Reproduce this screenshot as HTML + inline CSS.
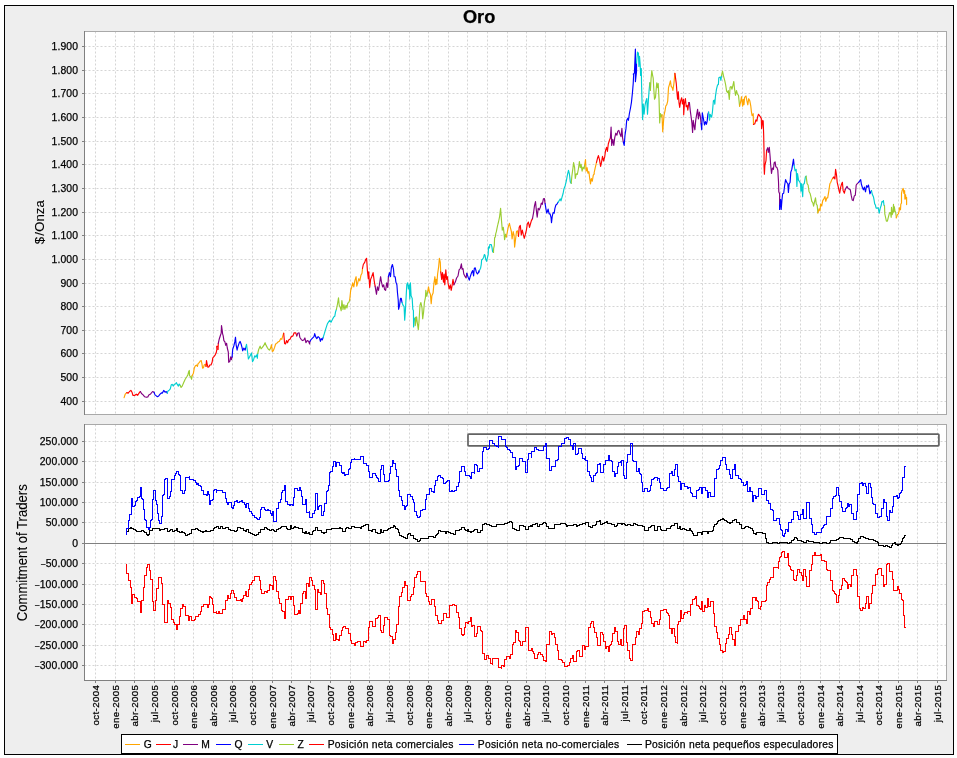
<!DOCTYPE html>
<html><head><meta charset="utf-8"><title>Oro</title>
<style>
html,body{margin:0;padding:0;background:#fff;}
body{width:957px;height:758px;overflow:hidden;}
svg{display:block;will-change:transform;}
text{font-family:"Liberation Sans", sans-serif;fill:#000;stroke:#000;stroke-width:0.25px;}
.t{font-size:10.4px;letter-spacing:0.13px;}
.x{font-size:9.7px;letter-spacing:0.4px;}
.l{font-size:10.3px;letter-spacing:0.25px;}
.a{font-size:13.8px;stroke-width:0.1px;}
.g{stroke:#d5d5d5;stroke-width:1;stroke-dasharray:2 2;fill:none;}
.c{shape-rendering:crispEdges;}
.p{fill:none;stroke-width:1.15;stroke-linejoin:round;stroke-linecap:round;}
.s{fill:none;stroke-width:1;stroke-linejoin:miter;shape-rendering:crispEdges;}
</style></head><body>
<svg width="957" height="758" viewBox="0 0 957 758">
<rect x="0" y="0" width="957" height="758" fill="#fff"/>
<rect class="c" x="4.5" y="5.5" width="949" height="749" fill="#eeeeee" stroke="#000" stroke-width="1"/>
<text x="462.9" y="23" textLength="32.4" lengthAdjust="spacingAndGlyphs" style="font-size:18px;font-weight:bold">Oro</text>
<rect x="84" y="31" width="863" height="384" fill="#fff"/>
<path class="g" d="M95.5 31.5 V414 M115.5 31.5 V414 M134.5 31.5 V414 M154.5 31.5 V414 M174.5 31.5 V414 M193.5 31.5 V414 M213.5 31.5 V414 M232.5 31.5 V414 M252.5 31.5 V414 M272.5 31.5 V414 M291.5 31.5 V414 M310.5 31.5 V414 M330.5 31.5 V414 M350.5 31.5 V414 M369.5 31.5 V414 M389.5 31.5 V414 M409.5 31.5 V414 M428.5 31.5 V414 M448.5 31.5 V414 M467.5 31.5 V414 M487.5 31.5 V414 M507.5 31.5 V414 M526.5 31.5 V414 M545.5 31.5 V414 M565.5 31.5 V414 M585.5 31.5 V414 M604.5 31.5 V414 M624.5 31.5 V414 M643.5 31.5 V414 M663.5 31.5 V414 M683.5 31.5 V414 M702.5 31.5 V414 M722.5 31.5 V414 M742.5 31.5 V414 M761.5 31.5 V414 M780.5 31.5 V414 M800.5 31.5 V414 M820.5 31.5 V414 M839.5 31.5 V414 M859.5 31.5 V414 M878.5 31.5 V414 M898.5 31.5 V414 M917.5 31.5 V414 M937.5 31.5 V414"/>
<path class="g" d="M84.5 401.5 H946 M84.5 377.5 H946 M84.5 353.5 H946 M84.5 330.5 H946 M84.5 306.5 H946 M84.5 283.5 H946 M84.5 259.5 H946 M84.5 235.5 H946 M84.5 212.5 H946 M84.5 188.5 H946 M84.5 164.5 H946 M84.5 141.5 H946 M84.5 117.5 H946 M84.5 93.5 H946 M84.5 70.5 H946 M84.5 46.5 H946"/>
<rect x="84" y="424" width="863" height="257" fill="#fff"/>
<path class="g" d="M95.5 424.5 V680 M115.5 424.5 V680 M134.5 424.5 V680 M154.5 424.5 V680 M174.5 424.5 V680 M193.5 424.5 V680 M213.5 424.5 V680 M232.5 424.5 V680 M252.5 424.5 V680 M272.5 424.5 V680 M291.5 424.5 V680 M310.5 424.5 V680 M330.5 424.5 V680 M350.5 424.5 V680 M369.5 424.5 V680 M389.5 424.5 V680 M409.5 424.5 V680 M428.5 424.5 V680 M448.5 424.5 V680 M467.5 424.5 V680 M487.5 424.5 V680 M507.5 424.5 V680 M526.5 424.5 V680 M545.5 424.5 V680 M565.5 424.5 V680 M585.5 424.5 V680 M604.5 424.5 V680 M624.5 424.5 V680 M643.5 424.5 V680 M663.5 424.5 V680 M683.5 424.5 V680 M702.5 424.5 V680 M722.5 424.5 V680 M742.5 424.5 V680 M761.5 424.5 V680 M780.5 424.5 V680 M800.5 424.5 V680 M820.5 424.5 V680 M839.5 424.5 V680 M859.5 424.5 V680 M878.5 424.5 V680 M898.5 424.5 V680 M917.5 424.5 V680 M937.5 424.5 V680"/>
<path class="g" d="M84.5 665.5 H946 M84.5 645.5 H946 M84.5 624.5 H946 M84.5 604.5 H946 M84.5 584.5 H946 M84.5 563.5 H946 M84.5 522.5 H946 M84.5 502.5 H946 M84.5 482.5 H946 M84.5 461.5 H946 M84.5 441.5 H946"/>
<path class="c" d="M85 543.5 H946" stroke="#808080" stroke-width="1" fill="none"/>
<g class="p">
<polyline stroke="#FFA500" points="124.1,397.6 125.2,394.2 126.8,392.6"/>
<polyline stroke="#FF0000" points="126.8,392.6 128.2,393.1 129.5,391.5 130.9,390.4 132.0,392.2 132.9,395.3 134.9,395.3 136.3,394.2 137.7,395.3 139.0,393.1 140.4,391.5"/>
<polyline stroke="#800080" points="140.4,391.5 141.5,393.5 143.1,394.9 144.5,396.7 146.5,397.3 147.8,396.9 148.8,394.9 150.6,393.9 152.6,391.5 154.0,392.2"/>
<polyline stroke="#0000FF" points="154.0,392.2 155.0,394.9 156.0,395.6 157.4,396.7 158.7,395.9 160.1,394.2 161.4,392.9 162.4,393.1 163.7,390.4 165.1,392.2 166.2,391.5 167.3,393.1"/>
<polyline stroke="#00CED1" points="167.3,393.1 167.8,391.2 169.2,390.1 170.3,388.8 171.3,384.7 172.3,384.4 173.2,386.1 174.3,384.4 175.4,384.0 176.4,382.7 177.3,384.4 178.4,386.1 179.2,384.0 180.2,385.4"/>
<polyline stroke="#9ACD32" points="180.2,385.4 181.1,387.4 182.2,386.1 183.6,382.7 185.2,379.3 186.8,376.8 187.9,374.9 188.6,371.8 189.3,370.4 189.6,375.9 190.6,376.6 191.6,379.3 192.0,375.9"/>
<polyline stroke="#FFA500" points="192.0,375.9 193.4,373.2 194.4,367.7 195.4,365.7 196.8,365.0 197.4,366.4 198.1,363.7 199.5,362.3 200.4,360.9 201.2,360.5 201.9,363.7 202.6,368.1 203.5,367.7 204.2,365.0 205.3,364.3 206.0,366.4"/>
<polyline stroke="#FF0000" points="206.0,366.4 206.5,360.5 207.2,364.3 208.0,367.3 209.0,366.8 209.7,365.0 211.0,365.0 212.1,362.3 212.8,357.8 213.7,356.9 215.1,355.1 216.2,352.8 216.9,349.4 216.7,346.4 218.1,346.0 218.1,349.4 218.3,343.3"/>
<polyline stroke="#800080" points="218.3,343.3 219.2,339.2 220.3,335.8 221.2,333.1 221.5,325.6 222.2,330.4 222.6,333.8 223.2,335.8 223.9,340.6 224.9,341.9 225.7,345.3 226.6,343.3 227.3,348.0 228.3,352.1 228.7,362.3 229.8,361.3 230.7,356.9 231.4,359.6 232.1,356.9"/>
<polyline stroke="#0000FF" points="232.1,356.9 232.7,349.4 233.8,346.0 234.8,341.9 235.5,337.2 236.1,344.6 237.1,350.1 237.9,346.7 239.3,342.6 240.2,341.5 240.0,341.3 241.1,344.0 242.0,347.4 242.7,350.8 243.8,348.1 245.2,350.1 245.7,347.4"/>
<polyline stroke="#00CED1" points="245.7,347.4 246.5,344.4 247.5,351.5 248.4,359.0 249.5,356.9 250.6,354.9 251.5,352.9 252.5,361.7 253.6,359.7 254.7,355.9 255.6,356.9 256.6,354.9 257.4,358.3 257.7,353.5"/>
<polyline stroke="#9ACD32" points="257.7,353.5 258.7,349.5 260.1,346.1 261.1,348.8 262.4,347.4 263.8,345.4 265.1,342.7 266.1,345.4 267.2,347.4 268.5,349.5 269.6,350.1 270.6,348.1"/>
<polyline stroke="#FFA500" points="270.6,348.1 271.5,344.7 272.3,351.5 273.3,350.8 274.6,347.4 275.6,344.0 276.7,343.4 278.0,342.0 279.4,341.3 280.8,338.6 281.8,339.3 282.8,335.9 283.7,333.2"/>
<polyline stroke="#FF0000" points="283.7,333.2 284.6,343.4 285.5,344.0 286.5,340.6 287.5,342.7 288.6,340.0 290.0,339.3 291.3,336.6 293.0,335.9 294.1,332.8 295.7,332.8 296.8,335.9"/>
<polyline stroke="#800080" points="296.8,335.9 297.7,333.2 299.1,332.8 299.8,337.2 301.1,339.3 302.5,340.6 303.8,340.0 304.9,337.9 305.9,342.7 307.2,340.6 308.6,341.3 309.6,344.0 310.0,341.3"/>
<polyline stroke="#0000FF" points="310.0,341.3 311.3,339.3 312.7,337.9 314.0,336.6 314.7,333.6 315.8,337.2 316.8,338.6 318.1,336.6 319.5,337.9 320.4,341.3 321.2,338.6 322.2,340.0 323.1,337.6"/>
<polyline stroke="#00CED1" points="323.1,337.6 324.5,333.2 325.9,328.4 327.2,324.3 328.3,322.3 329.7,320.3 331.0,322.3 332.4,319.6 333.7,316.9 334.8,316.2 335.5,312.1 336.4,309.4"/>
<polyline stroke="#9ACD32" points="336.4,309.4 337.5,304.0 338.5,297.8 339.2,305.3 340.3,307.4 341.2,310.8 341.9,300.6 343.0,309.4 343.9,304.6 344.9,309.4 346.0,305.3 347.0,308.0 347.7,303.3 348.7,302.6 349.8,299.9"/>
<polyline stroke="#FFA500" points="349.8,299.9 349.7,299.8 350.0,297.1 350.7,290.3 351.6,287.5 352.7,282.8 353.8,286.9 354.8,280.8 356.1,276.7 356.8,286.2 357.9,282.1 358.8,278.7 359.8,280.8 360.9,275.3 362.0,273.3 362.5,268.5"/>
<polyline stroke="#FF0000" points="362.5,268.5 363.3,264.5 364.7,262.4 365.6,259.7 366.6,258.3 367.4,270.6 368.3,278.7 368.7,271.9 369.7,287.5 370.6,279.4 371.7,276.7 373.1,272.6 374.2,280.8 375.1,286.2"/>
<polyline stroke="#800080" points="375.1,286.2 376.5,294.3 377.4,286.9 378.5,290.3 379.6,283.5 380.6,276.7 381.5,282.1 382.6,286.9 383.7,284.8 384.6,289.6 385.6,290.3 386.7,282.8 387.8,287.5 388.4,276.7"/>
<polyline stroke="#0000FF" points="388.4,276.7 389.4,272.6 390.5,276.7 391.4,267.2 392.4,264.5 393.5,269.2 394.1,276.7 395.2,276.7 395.9,282.1 396.9,284.8 397.5,293.0 398.2,299.8 398.6,309.3 399.6,305.2 400.5,298.4 401.3,298.4 402.0,302.5"/>
<polyline stroke="#00CED1" points="402.0,302.5 403.0,305.2 404.1,306.6 404.7,320.1 405.4,310.6 406.1,297.1 406.8,284.8 407.7,282.8 408.4,288.9 409.2,284.8 409.8,299.1 410.4,282.8 411.1,295.7 412.2,298.4 412.8,309.3 413.4,310.6 413.6,326.9 414.5,318.8 415.5,317.4"/>
<polyline stroke="#9ACD32" points="415.5,317.4 415.2,325.6 416.6,316.8 417.5,324.2 418.3,329.7 419.0,321.5 420.0,305.2 420.9,302.5 422.0,307.9 422.7,318.8 423.6,312.0 424.4,302.5 425.4,297.7 425.8,290.3 426.8,296.4 427.7,291.6"/>
<polyline stroke="#FFA500" points="427.7,291.6 428.5,286.9 429.5,292.3 430.4,294.3 431.2,303.8 431.9,295.7 433.1,293.0 433.9,283.5 434.9,276.7 435.6,284.8 436.3,279.4 436.9,284.1 437.6,274.0 438.6,267.2 439.4,258.3 440.3,262.4 440.7,271.9"/>
<polyline stroke="#FF0000" points="440.7,271.9 441.7,279.4 442.4,272.6 443.5,282.1 444.1,274.0 444.8,284.8 445.8,269.9 446.7,279.4 447.5,276.7 448.1,283.5 449.2,288.9 450.3,284.8 451.2,290.3 452.2,284.8 453.0,279.4 453.9,284.8"/>
<polyline stroke="#800080" points="453.9,284.8 455.3,282.1 456.6,278.0 458.0,276.0 459.1,269.9 460.3,268.5 461.4,263.8 462.1,269.2 463.0,268.5 463.8,274.0 465.2,276.7 466.1,278.0 466.8,273.3"/>
<polyline stroke="#0000FF" points="466.8,273.3 468.2,277.4 469.3,280.1 470.2,276.7 471.6,272.6 472.7,270.6 473.6,276.0 474.3,268.5 475.2,267.8 476.3,271.9 477.4,274.0 478.4,272.6 479.0,270.6 478.9,272.3 479.5,270.3"/>
<polyline stroke="#00CED1" points="479.5,270.3 480.6,268.2 481.3,264.1 481.6,260.0 482.6,259.3 483.7,257.2 484.3,254.5 485.0,255.2 485.7,259.3 486.6,261.3 487.4,257.9 488.2,254.5 488.5,246.9 489.5,248.0 489.8,244.5 491.2,244.5 491.9,246.9 492.6,251.7 493.5,252.4"/>
<polyline stroke="#9ACD32" points="493.5,252.4 493.5,252.1 493.6,248.7 494.3,245.6 494.6,237.7 495.3,237.0 495.7,233.9 496.3,231.9 497.0,228.4 497.7,225.0 497.8,224.7 498.5,222.0 499.6,216.6 500.6,208.4 501.5,220.6 502.3,230.1 503.3,227.4 504.0,232.9 504.6,239.7 505.6,234.2 506.4,236.9"/>
<polyline stroke="#FFA500" points="506.4,236.9 507.4,231.5 508.3,226.8 509.4,223.4 510.5,228.1 511.4,231.5 512.1,239.0 513.2,231.5 514.1,235.6 514.6,247.1 515.5,239.7 516.5,231.5 517.5,230.8 518.5,236.3"/>
<polyline stroke="#FF0000" points="518.5,236.3 519.2,227.4 520.3,225.4 521.3,234.9 522.3,230.1 523.2,234.2 524.3,238.3 525.4,234.2 526.4,230.1 527.3,224.0 528.4,222.0 529.5,227.4 530.4,224.0 531.4,220.6 532.5,218.6"/>
<polyline stroke="#800080" points="532.5,218.6 533.6,212.5 534.5,205.7 535.5,201.6 536.3,209.8 537.2,217.2 538.2,208.4 539.3,209.8 540.4,207.1 541.3,203.0 542.3,204.3 543.4,198.9 544.4,198.6 545.1,203.7"/>
<polyline stroke="#0000FF" points="545.1,203.7 546.1,209.8 546.8,213.2 548.1,209.1 549.1,213.8 550.1,213.8 551.1,217.9 551.5,222.7 552.2,216.6 553.1,212.5 554.2,213.2 554.9,208.4 555.9,205.0 556.9,204.3 558.0,202.3"/>
<polyline stroke="#00CED1" points="558.0,202.3 559.0,200.9 560.3,198.9 561.0,200.9 562.1,196.9 563.1,193.5 564.0,188.7 565.1,186.0 566.4,180.6 567.5,174.5 568.5,170.4 569.4,173.8 570.3,181.9 571.2,183.3"/>
<polyline stroke="#9ACD32" points="571.2,183.3 571.9,175.8 573.0,167.7 573.6,162.5 574.6,167.7 575.3,178.5 576.2,173.8 577.3,174.5 578.4,169.0 579.4,161.5 580.3,167.7 581.1,164.3 582.1,171.1 583.0,167.0 584.1,169.0 584.8,164.3"/>
<polyline stroke="#FFA500" points="584.8,164.3 585.5,159.5 586.1,171.1 587.1,167.7 587.9,173.1 588.9,171.7 589.8,179.2 590.5,184.0 591.3,178.5 592.3,181.2 593.3,175.1 594.3,173.8 594.1,173.0 595.2,167.8 596.5,162.4"/>
<polyline stroke="#FF0000" points="596.5,162.4 597.5,158.3 598.4,155.6 599.5,159.7 600.6,166.4 601.5,162.4 602.5,156.3 603.6,161.0 604.7,156.9 605.6,150.1 606.6,147.4 607.4,151.5 608.3,144.0 609.3,140.6 610.4,137.9"/>
<polyline stroke="#800080" points="610.4,137.9 611.1,127.1 611.7,145.4 612.8,139.3 613.8,145.4 614.7,137.9 615.8,133.2 616.9,135.2 617.8,131.1 618.8,130.4 619.9,133.8 621.0,136.6 621.9,128.4 622.6,137.9 623.3,142.0"/>
<polyline stroke="#0000FF" points="623.3,142.0 624.2,145.4 625.0,135.2 626.0,128.4 626.7,120.3 627.8,118.2 628.4,120.3 629.4,113.5 630.5,108.0 631.4,102.6 632.4,93.1 633.2,83.6 633.7,74.1 633.2,74.2 634.4,73.1 635.4,49.1 635.4,81.6 636.5,72.0 636.5,63.1"/>
<polyline stroke="#00CED1" points="636.5,63.1 637.5,52.1 638.4,53.2 638.9,66.5 639.5,56.3 640.2,64.5 640.6,75.5 641.3,68.6 641.6,87.0 641.6,86.3 641.9,97.2 642.6,119.6 643.2,104.0 644.1,114.1 645.0,105.3 645.7,101.9 646.8,98.5 647.5,114.1 648.4,99.9 649.1,90.4 649.8,82.9"/>
<polyline stroke="#9ACD32" points="649.8,82.9 650.4,90.4 651.1,78.2 651.8,70.7 652.5,74.8 653.2,78.2 653.8,89.0 654.5,99.2 655.5,97.2 656.3,87.7 656.8,82.9 657.6,87.7 658.2,83.6 659.0,98.5 659.7,123.0 660.4,113.5 661.3,116.9 662.0,114.8"/>
<polyline stroke="#FFA500" points="662.0,114.8 662.7,131.8 663.4,123.0 664.0,115.5 665.0,110.8 665.8,106.0 666.8,104.6 667.7,101.2 668.5,87.7 669.5,84.3 670.4,80.9 671.2,86.3 672.2,87.7 672.9,90.4 673.9,83.6 674.9,73.4"/>
<polyline stroke="#FF0000" points="674.9,73.4 676.3,83.6 676.9,91.7 677.6,99.2 678.3,91.7 679.0,102.6 679.7,107.4 680.7,100.6 681.7,97.8 682.4,104.0 683.5,99.2 683.7,114.8 684.4,104.0 685.4,98.5 686.2,106.7 687.1,105.3 687.8,110.1 688.8,102.6"/>
<polyline stroke="#800080" points="688.8,102.6 689.4,102.6 690.3,110.8 691.2,117.5 691.9,123.0 692.6,132.5 693.2,120.3 694.3,127.1 694.9,129.8 695.7,120.3 696.6,114.8 697.6,109.4 698.4,118.9 699.4,112.1 700.3,116.2 701.1,123.7"/>
<polyline stroke="#0000FF" points="701.1,123.7 701.7,129.8 702.3,112.8 703.2,117.5 703.8,120.9 704.5,125.0 705.5,121.6 706.4,124.3 707.1,121.6 707.9,114.1 708.6,112.1"/>
<polyline stroke="#00CED1" points="708.6,112.1 709.5,120.3 710.2,114.8 710.0,114.3 711.6,117.1 712.4,112.3 713.4,100.8 714.3,100.1 714.8,104.1 715.4,96.7 716.5,89.2 717.5,85.1 718.4,84.5 718.8,77.7 720.2,77.0 720.9,80.4 721.5,75.6"/>
<polyline stroke="#9ACD32" points="721.5,75.6 722.5,71.1 723.6,76.3 724.7,80.4 725.6,84.5 726.6,91.2 727.7,92.6 728.3,90.6 729.3,99.4 730.1,87.2 731.1,86.5 732.0,89.2 732.8,85.8 733.8,81.5 734.5,88.5 735.5,95.3 736.5,90.6 737.4,94.0 738.5,95.3 739.6,106.2"/>
<polyline stroke="#FFA500" points="739.6,106.2 740.6,102.1 741.5,96.7 742.6,106.2 743.3,99.4 744.0,104.8 744.6,97.4 746.0,96.0 746.9,100.8 747.8,104.8 748.7,98.7 749.8,100.8 750.8,106.2 751.4,111.6 752.1,115.7 753.2,113.7 753.5,124.5"/>
<polyline stroke="#FF0000" points="753.5,124.5 754.8,123.8 755.9,119.8 756.9,121.1 757.5,117.1 758.5,114.3 759.6,115.7 760.5,117.1 761.3,118.4 761.6,128.6 762.7,120.4 763.2,121.1 763.7,136.1 764.1,155.1 764.0,165.3 764.4,174.1 764.9,165.3 766.0,160.6 766.6,150.4"/>
<polyline stroke="#800080" points="766.6,150.4 767.7,147.7 768.3,152.4 769.3,147.4 770.1,156.5 770.6,164.0 771.5,173.5 772.4,168.0 773.4,169.4 774.2,162.6 775.1,161.9 775.8,166.7 776.9,167.4 777.8,170.1 778.5,181.6 778.8,191.8 779.6,193.8 779.6,205.4"/>
<polyline stroke="#0000FF" points="779.6,205.4 779.6,209.5 780.6,199.3 781.2,209.5 781.9,200.6 782.6,193.8 783.7,193.2 784.6,185.7 785.6,179.6 786.7,182.3 787.8,183.7 788.4,192.5 789.1,184.3 790.1,182.3 790.8,172.1 791.8,169.4 792.8,163.3 793.5,159.2 794.1,165.3"/>
<polyline stroke="#00CED1" points="794.1,165.3 795.1,170.8 796.2,169.4 796.9,186.4 797.5,173.5 798.6,180.3 799.6,181.6 800.5,183.7 800.9,191.1 801.6,183.7 802.7,196.6 803.2,184.3 804.3,183.7 805.4,176.9 806.1,176.2"/>
<polyline stroke="#9ACD32" points="806.1,176.2 807.1,183.7 808.1,185.0 809.1,191.8 810.0,193.2 810.9,196.6 811.8,201.3 812.8,202.7 813.6,206.1 814.5,202.0 815.5,197.9 816.3,204.0 817.2,205.4 817.9,212.9"/>
<polyline stroke="#FFA500" points="817.9,212.9 819.0,208.8 820.0,210.8 820.6,204.0 821.7,206.1 822.7,200.6 824.0,198.6 825.0,196.6 825.8,201.3 826.8,197.9 827.7,197.9 828.8,191.1 829.9,183.7 830.8,182.3 831.8,179.6 832.9,178.2"/>
<polyline stroke="#FF0000" points="832.9,178.2 833.9,176.9 834.9,178.9 835.6,169.4 836.5,174.8 837.2,182.3 838.0,185.7 839.0,190.4 839.7,193.2 840.7,187.1 841.7,183.7 842.4,182.3 843.1,190.4 844.4,193.2 845.1,189.8"/>
<polyline stroke="#800080" points="845.1,189.8 846.2,187.7 847.1,186.4 848.1,188.4 849.2,189.1 850.3,189.8 851.2,195.2 852.2,200.0 853.2,200.6 854.3,195.9 855.3,195.2 856.2,185.0 857.3,183.7 858.7,182.3"/>
<polyline stroke="#0000FF" points="858.7,182.3 859.8,180.9 860.7,179.6 861.4,184.3 862.5,187.7 863.4,189.8 864.4,187.1 865.5,191.8 866.6,185.7 867.5,187.1 868.5,185.0 869.3,189.8 869.9,193.8 870.9,191.8 870.9,191.8 871.5,190.6"/>
<polyline stroke="#00CED1" points="871.5,190.6 872.2,194.0 873.4,196.7 874.1,200.2 874.7,203.9 875.4,205.0 876.1,208.1 877.1,208.1 878.2,207.7 879.2,213.2 880.2,208.4 881.3,205.0 881.9,201.5 883.0,201.9 883.4,200.5 884.0,205.3 884.5,205.7"/>
<polyline stroke="#9ACD32" points="884.5,205.7 884.8,213.9 885.7,218.0 886.4,221.1 887.4,221.1 888.5,216.6 889.5,212.9 890.5,212.5 891.2,217.3 891.5,207.4 892.2,214.6 892.9,212.5 893.5,204.3 893.9,211.8 894.3,206.7 895.0,211.1 895.7,212.5 896.3,217.3"/>
<polyline stroke="#FFA500" points="896.3,217.3 896.3,218.0 897.4,214.6 898.4,213.9 899.1,211.1 899.4,207.7 900.5,209.8 900.8,204.3 901.5,202.9 901.5,193.3 902.2,190.2 903.2,188.4 903.9,193.3 904.6,190.6 904.9,199.1 905.6,194.7 905.9,198.8 906.6,197.4 906.6,204.6"/>
</g>
<rect x="468" y="434.05" width="470.9" height="11.75" rx="0.8" ry="0.8" fill="none" stroke="#636363" stroke-width="1.7"/>
<path class="s" stroke="#000000" d="M125.5 531.5H127.5H128.5V528.5H130.5V527.5H131.5V528.5H133.5V529.5H135.5V530.5H136.5V531.5H139.5H141.5V530.5H143.5V531.5H144.5V532.5H146.5V534.5H147.5V535.5H148.5V534.5H149.5V530.5H150.5H152.5V528.5H158.5H159.5V530.5H160.5V529.5H164.5V528.5H167.5V529.5V531.5H169.5V530.5H170.5V529.5H172.5V531.5H174.5V530.5H176.5V528.5H177.5V531.5H179.5V532.5H181.5V531.5H182.5V532.5H184.5V533.5H185.5V535.5H187.5V534.5H189.5V533.5H191.5V532.5V529.5H193.5H195.5V528.5H197.5V529.5H198.5V530.5H200.5V531.5H202.5V532.5H203.5V531.5H205.5V530.5H206.5V531.5H208.5H210.5V530.5H212.5H213.5V528.5H214.5V527.5H216.5V526.5H218.5V528.5H220.5V526.5H222.5V528.5H225.5V527.5H227.5H228.5V529.5H230.5V530.5H232.5H234.5V531.5H236.5V530.5H237.5V527.5H239.5H240.5V528.5H242.5H243.5V530.5H245.5V531.5H246.5V529.5H247.5H248.5V532.5H250.5V533.5H252.5V534.5H254.5V535.5H256.5V534.5H258.5V532.5H260.5V529.5H262.5H264.5V527.5H266.5V528.5H267.5V529.5H269.5V530.5H271.5V529.5H273.5V530.5H274.5V531.5H275.5H276.5V529.5H278.5V528.5H280.5V527.5H281.5V526.5H285.5H286.5V528.5H287.5V529.5H290.5V528.5V525.5H291.5V528.5H293.5V527.5H294.5V526.5H295.5V527.5H298.5V528.5H300.5H302.5V530.5V532.5H304.5V533.5H305.5V531.5H306.5V533.5H308.5V532.5H309.5V534.5H311.5H312.5V531.5H313.5V530.5H315.5V527.5H317.5V530.5H320.5H321.5V532.5H323.5V533.5H324.5V532.5H326.5V529.5H330.5H331.5V528.5H338.5H339.5V527.5H340.5V528.5H342.5V531.5H344.5H345.5V528.5H346.5V527.5H348.5V528.5H350.5H351.5V526.5H353.5H354.5V527.5H359.5H360.5V528.5H361.5V526.5H363.5V525.5H365.5V524.5H366.5H368.5V530.5H370.5H371.5V531.5H372.5V529.5H374.5H375.5V532.5H377.5V533.5H380.5V532.5V529.5H381.5V532.5H383.5V530.5H385.5H387.5V529.5H388.5V528.5H390.5V527.5H391.5H393.5V525.5H394.5V526.5H395.5V528.5H397.5V529.5H398.5V532.5H399.5V535.5H401.5V536.5H403.5V537.5H405.5V538.5H407.5V534.5H408.5V533.5H410.5V535.5H413.5V538.5H415.5V539.5H417.5V541.5H419.5V540.5H420.5V538.5H422.5H423.5H425.5H427.5H428.5V536.5H430.5H431.5H433.5V537.5H435.5V535.5H436.5V534.5H437.5V533.5H438.5V530.5H440.5V531.5H442.5H444.5H445.5V533.5H446.5V531.5H448.5V532.5H450.5V533.5H452.5H453.5V534.5H455.5V533.5V530.5H457.5H459.5V529.5H460.5H461.5V527.5H463.5H464.5V529.5H465.5V530.5H467.5V531.5V529.5H468.5V531.5H470.5V532.5H471.5V531.5H473.5V530.5H474.5V529.5H476.5H477.5V532.5H479.5H480.5V530.5H482.5V524.5H484.5V523.5H486.5V522.5V524.5H489.5V525.5H491.5V526.5H495.5H496.5V524.5H499.5H501.5H503.5H504.5V523.5H507.5V522.5H509.5V521.5H511.5V522.5H512.5V528.5H514.5V529.5H516.5V530.5H518.5H519.5V525.5H521.5H523.5V526.5H525.5V528.5V529.5H527.5H528.5V526.5H530.5V525.5H531.5V526.5H532.5V524.5H535.5V523.5H536.5H537.5V526.5H539.5V524.5H542.5V523.5H543.5V522.5H545.5V523.5H546.5V526.5H547.5H548.5V528.5H553.5H554.5V524.5H558.5H560.5V523.5H563.5H565.5V524.5H566.5V526.5H567.5V525.5H572.5H573.5V524.5H575.5H576.5V526.5H577.5V525.5H579.5V524.5H582.5V523.5H583.5H585.5V524.5V522.5H587.5H588.5V526.5H590.5V527.5H592.5V526.5V525.5H595.5V524.5H596.5V523.5V521.5H599.5V520.5H600.5V524.5H602.5V523.5H604.5V522.5H606.5V521.5H607.5V523.5H610.5H611.5V524.5H613.5H614.5V526.5H616.5V525.5H617.5V523.5H620.5H621.5V524.5H622.5V523.5H624.5V524.5H625.5V525.5H627.5V524.5H629.5H630.5V525.5H633.5V523.5H634.5H635.5V524.5H637.5V525.5H640.5H642.5V524.5V526.5H644.5V527.5V530.5H648.5V527.5H650.5V526.5H651.5V525.5H653.5H654.5V530.5H656.5H657.5V526.5H659.5H660.5V529.5H661.5V530.5H664.5H666.5V528.5H668.5H670.5V526.5H671.5V525.5H673.5H674.5V523.5H677.5V522.5V528.5H679.5V526.5H680.5V529.5H682.5V528.5H684.5V529.5H686.5V530.5H689.5V528.5H690.5V530.5H691.5V531.5H692.5V533.5H693.5V535.5H696.5H697.5V532.5H701.5V534.5H702.5V531.5H705.5H707.5V533.5H708.5V531.5H710.5H712.5V530.5H713.5V526.5H714.5V524.5H716.5V523.5H717.5V521.5H718.5V520.5H720.5V519.5H722.5V518.5H723.5V519.5H724.5V520.5H726.5V521.5H727.5V522.5H729.5V523.5H730.5V522.5H732.5V520.5H734.5V519.5H735.5H736.5V522.5H738.5H739.5V524.5H741.5V528.5H744.5V527.5H745.5V526.5H747.5H748.5V527.5H750.5V528.5H752.5V530.5H753.5V533.5H755.5V534.5H756.5V532.5H760.5H762.5V533.5H764.5H765.5V538.5H766.5V542.5H768.5V543.5H771.5H772.5V542.5H774.5H777.5V543.5H779.5V542.5H783.5H785.5H787.5V543.5H789.5V542.5H791.5V540.5H793.5V539.5H794.5V537.5H796.5V538.5H797.5V540.5H799.5H801.5V541.5H803.5V542.5H805.5H806.5V540.5H808.5V541.5H811.5H813.5V542.5H816.5H817.5H819.5V543.5H822.5V542.5H824.5H826.5V543.5H829.5V542.5H830.5V540.5H833.5H836.5V539.5H838.5V538.5H839.5V537.5H842.5H843.5V538.5H845.5H849.5H850.5V539.5H852.5V541.5H854.5V542.5H856.5V543.5H857.5V541.5H858.5V538.5H860.5V536.5H861.5H863.5V537.5H865.5V538.5H868.5V539.5H871.5H873.5V540.5H875.5V541.5H877.5V542.5H878.5V545.5H880.5H882.5H883.5V546.5H885.5V545.5H887.5V546.5H889.5V547.5H891.5V545.5H892.5V543.5H894.5V542.5H895.5V544.5H897.5V545.5H898.5V544.5H900.5V543.5H901.5V541.5H902.5V538.5H903.5V537.5H904.5V535.5H905.5"/>
<path class="s" stroke="#FF0000" d="M125.5 564.5H126.5V573.5H128.5V580.5H129.5H130.5V587.5H131.5V603.5H132.5V594.5H134.5V597.5H136.5V598.5H137.5V601.5H140.5V612.5H141.5V600.5H143.5V599.5V587.5H144.5V575.5H146.5V567.5H147.5V564.5H149.5V570.5H150.5V579.5H152.5V601.5H153.5V610.5H155.5V600.5H156.5V588.5H158.5V577.5H161.5V583.5H162.5V604.5H164.5V622.5H167.5V600.5H168.5V603.5H170.5V607.5H171.5V619.5H172.5H173.5V622.5H174.5V624.5H176.5V625.5V629.5H177.5V624.5H179.5V616.5H180.5V608.5H182.5V604.5H183.5V606.5H184.5H185.5V615.5H188.5V616.5V620.5H189.5V616.5H191.5V620.5H193.5H194.5V619.5H195.5V616.5H197.5H198.5V614.5H200.5V611.5H201.5V606.5H203.5V605.5V604.5H206.5H207.5V607.5H208.5V604.5H209.5V596.5H210.5V597.5H211.5V598.5H212.5V604.5H213.5V612.5H215.5H216.5V610.5V613.5H218.5V611.5H219.5V613.5H222.5V609.5H224.5H225.5V603.5V600.5H227.5V595.5H228.5V598.5H230.5V597.5V593.5H231.5V590.5H232.5H233.5V593.5H234.5V596.5V597.5H236.5V600.5H238.5H240.5V599.5H241.5V601.5H242.5V600.5V598.5H243.5V595.5H245.5V591.5H246.5V596.5H247.5H248.5V589.5H249.5V584.5H250.5H251.5V582.5H252.5V580.5H254.5V576.5H256.5H257.5H258.5H259.5V580.5H260.5V589.5H261.5V593.5H263.5H264.5V591.5H265.5H266.5V592.5H267.5V590.5H269.5V584.5H270.5V585.5H271.5H272.5V589.5H273.5V576.5H275.5V580.5H276.5V591.5H278.5V598.5H279.5V603.5H280.5H281.5V610.5H282.5V611.5H284.5V618.5H285.5V599.5H287.5H288.5V596.5H290.5V599.5H291.5V596.5H293.5V605.5H294.5V614.5H296.5H297.5V613.5H298.5V610.5H299.5V613.5H300.5V603.5H302.5V593.5H303.5V591.5H305.5V598.5H306.5V583.5H308.5V586.5H309.5V577.5H311.5V580.5H312.5V585.5H313.5H314.5V589.5H315.5V609.5H317.5V589.5H318.5V592.5H320.5V594.5H321.5V580.5H323.5V583.5H324.5V593.5H326.5V608.5H327.5V614.5H329.5V627.5H330.5V629.5H331.5H332.5V634.5H333.5V640.5H335.5V633.5H336.5V639.5H337.5H338.5V640.5H339.5V635.5H340.5H341.5V630.5H342.5V627.5H343.5V626.5H345.5V628.5H348.5V633.5H350.5V640.5H351.5V643.5H353.5H354.5V645.5H355.5V642.5H356.5H357.5V641.5H359.5H360.5V646.5H362.5H363.5V641.5H364.5H365.5V642.5H366.5V640.5H367.5H368.5V627.5H369.5V621.5H371.5H372.5V623.5V626.5H374.5H375.5V618.5H376.5H377.5V617.5H378.5V615.5H380.5V630.5H381.5V632.5H383.5V625.5H384.5V617.5H386.5H387.5V619.5H389.5V635.5H390.5V636.5H392.5V637.5V643.5H393.5V639.5H394.5H395.5V632.5H396.5V624.5H398.5V606.5H399.5V596.5H400.5H401.5V592.5H402.5V587.5H404.5V586.5V581.5H405.5V585.5H406.5H407.5V600.5H410.5V596.5H411.5V594.5H413.5V587.5H414.5V577.5H415.5H416.5V574.5H417.5V571.5H419.5H420.5V573.5V581.5H425.5V593.5H426.5V596.5H428.5V597.5V601.5H429.5V604.5H431.5V599.5H434.5V606.5H435.5V615.5H437.5V620.5H438.5V623.5H440.5H441.5V620.5H442.5H443.5V613.5H445.5H446.5V614.5V617.5H449.5V605.5H451.5H452.5V604.5H454.5V605.5H455.5H456.5V612.5H457.5H458.5V617.5H459.5V628.5H460.5H461.5V634.5H462.5V635.5H463.5V634.5H464.5V627.5H465.5V622.5H467.5V623.5H468.5V621.5H470.5V617.5H471.5V626.5H472.5V625.5H474.5V636.5H476.5V633.5H477.5V626.5H479.5H480.5V630.5H481.5V631.5H482.5V653.5H483.5H484.5V659.5H485.5H486.5V655.5H487.5H488.5V658.5H489.5H490.5V663.5H491.5H492.5V664.5V658.5H494.5H497.5H498.5V657.5V667.5H500.5H501.5V668.5V665.5H503.5V666.5H504.5V659.5H506.5V656.5H509.5V658.5H510.5V654.5H512.5V644.5H513.5V642.5H515.5V630.5H516.5V632.5H518.5V640.5H519.5V641.5H520.5V645.5H522.5V641.5H524.5H525.5V634.5V627.5H527.5H528.5V642.5V650.5H530.5H531.5V648.5H532.5V651.5H533.5V653.5H534.5V658.5H536.5H537.5V654.5H538.5V652.5H540.5V654.5H542.5V656.5H543.5V660.5H544.5H545.5V661.5H546.5V644.5H549.5V631.5H551.5V634.5H552.5V633.5H554.5V637.5H555.5V644.5H557.5V650.5H558.5V659.5H559.5H561.5V660.5H562.5V662.5H563.5H564.5V666.5H566.5H567.5V665.5H569.5V662.5H570.5V658.5H571.5H572.5V655.5H573.5V661.5H575.5H576.5V651.5H577.5V650.5H578.5H579.5V653.5V656.5H581.5H582.5V652.5V645.5H584.5V649.5H585.5V646.5H587.5H588.5V634.5V627.5H590.5V623.5H591.5V621.5H593.5V627.5H594.5V632.5H596.5V637.5H597.5V645.5H599.5H600.5V632.5H602.5V634.5H603.5V641.5H604.5H605.5V648.5H606.5V646.5H607.5H608.5V651.5H609.5V645.5H610.5V644.5H611.5V641.5H612.5V633.5H614.5V632.5V627.5H615.5V631.5H617.5V641.5H618.5V644.5H620.5V639.5H621.5V645.5H623.5V628.5H624.5V625.5H626.5V642.5H627.5V650.5H629.5V658.5H630.5V660.5H632.5V644.5H634.5H635.5V637.5H636.5V631.5H638.5V634.5H639.5V628.5H640.5H641.5V623.5H642.5V611.5H644.5V610.5H646.5H647.5V608.5H648.5V611.5H650.5V617.5H651.5V623.5H653.5V626.5H654.5V621.5H656.5H657.5V624.5H659.5V619.5H660.5V610.5H662.5H663.5V609.5H665.5H666.5V612.5H667.5V613.5H668.5V615.5H669.5V628.5H671.5V633.5H672.5V628.5H674.5V636.5H675.5V642.5H677.5V643.5V624.5H678.5V621.5H680.5V610.5H681.5V618.5H683.5V614.5H684.5V612.5H686.5H687.5V613.5V611.5H689.5H690.5V615.5V604.5H692.5V599.5H694.5V598.5H695.5V596.5H696.5V605.5H698.5V606.5H699.5V608.5H700.5V609.5H701.5V601.5H702.5V600.5V611.5H704.5V605.5H705.5V607.5H707.5V598.5H708.5V606.5H710.5V605.5V601.5H713.5V613.5H714.5V626.5H716.5V632.5H717.5V638.5H719.5V639.5V644.5H720.5V650.5H722.5V652.5H723.5V651.5H725.5V643.5H726.5V638.5H727.5H728.5V634.5H729.5V627.5H731.5V634.5H732.5V639.5H734.5V645.5H735.5V631.5H736.5H738.5V630.5V625.5H740.5V619.5H742.5H743.5V615.5H744.5V619.5H745.5H746.5V623.5H747.5V617.5V611.5H749.5V614.5H750.5V608.5H752.5V597.5H754.5H755.5V600.5V597.5H756.5V600.5H757.5V601.5H758.5V608.5H760.5V609.5V606.5H761.5V601.5H763.5H765.5V600.5H766.5V585.5H767.5V582.5H769.5V579.5H770.5V577.5H772.5H773.5V567.5H775.5H778.5V568.5V561.5H779.5V557.5H780.5V556.5H781.5V552.5H782.5V551.5H784.5V557.5H786.5H787.5V553.5H788.5V565.5H789.5V566.5H790.5V569.5H791.5V570.5H792.5H793.5V579.5H794.5V580.5H796.5V575.5H797.5V569.5H799.5V572.5H801.5V573.5V575.5H802.5V580.5H803.5V574.5V569.5H805.5V576.5H806.5V586.5H808.5H809.5V580.5V570.5H810.5H811.5V564.5H812.5V555.5H814.5V554.5V552.5H815.5V555.5H817.5H820.5V554.5H821.5V557.5V560.5H823.5H824.5V561.5H826.5V562.5V569.5H827.5V570.5H829.5H830.5V572.5V580.5H832.5V590.5H833.5V591.5H834.5V593.5H835.5V594.5H836.5V602.5H838.5V595.5H839.5V589.5H840.5H841.5V585.5H842.5V578.5H844.5V580.5H845.5V581.5H846.5V582.5H847.5V588.5H848.5V584.5H849.5H850.5V586.5H851.5V575.5H853.5V569.5H856.5V575.5H857.5V596.5H859.5V608.5H860.5V610.5H862.5V607.5H863.5V608.5H865.5V603.5H866.5V596.5H868.5V608.5H869.5V603.5H871.5V593.5H872.5V585.5H874.5H875.5V583.5V574.5H877.5V569.5H878.5V568.5H880.5H881.5V570.5V575.5H883.5V576.5V586.5H884.5V584.5H885.5H886.5V564.5H887.5V563.5H889.5V571.5H892.5V579.5H893.5V590.5H896.5H897.5V586.5H898.5V589.5H899.5V593.5H901.5V599.5H902.5V600.5H903.5V615.5H904.5V627.5H905.5"/>
<path class="s" stroke="#0000FF" d="M125.5 534.5H126.5V528.5H128.5V527.5V520.5H129.5V514.5H131.5V513.5V498.5H132.5V506.5H134.5V505.5H135.5V501.5H136.5V500.5H137.5V497.5H139.5V496.5H140.5V487.5H141.5V498.5H142.5V499.5H143.5V509.5H144.5V519.5H145.5V520.5H146.5V527.5H148.5V529.5H149.5V527.5H150.5V520.5H151.5V519.5H152.5V499.5H153.5V490.5H155.5V500.5H156.5V504.5H157.5V513.5H158.5V520.5H159.5V523.5H161.5V516.5H162.5V495.5H163.5V494.5H164.5V479.5H165.5V478.5H167.5V498.5H169.5V496.5H170.5V491.5H171.5V479.5H173.5H174.5V475.5H175.5V473.5H176.5V471.5H178.5V474.5H179.5V475.5H180.5V481.5V490.5H182.5V493.5H184.5V490.5H185.5V477.5H187.5H189.5V475.5V479.5H191.5H193.5V480.5H195.5V482.5H196.5V484.5H197.5V483.5H198.5V485.5H200.5V486.5H201.5V490.5H203.5V492.5V494.5H206.5V495.5H207.5V491.5H208.5V494.5H209.5V504.5H210.5V500.5H212.5V499.5H213.5V490.5H214.5V489.5H216.5V492.5V490.5H220.5H222.5V489.5V492.5H224.5H225.5V498.5H226.5V502.5H227.5V504.5H228.5V502.5H230.5H231.5V507.5H232.5V508.5H233.5V505.5H234.5V501.5H236.5V500.5H237.5V502.5H239.5V501.5H241.5V500.5H242.5V502.5H244.5V504.5H245.5V507.5H246.5V503.5H247.5H248.5V508.5H249.5V511.5H251.5V513.5H252.5V515.5H254.5V517.5H256.5V518.5H257.5V519.5H259.5V517.5H260.5V509.5H261.5V507.5H263.5H264.5V509.5H265.5V510.5H267.5V509.5H268.5V510.5H270.5V513.5H271.5V515.5H272.5V511.5H273.5V517.5V521.5H275.5H276.5V517.5V508.5H278.5V502.5H280.5V499.5H281.5V498.5V492.5H282.5V490.5H284.5V485.5H285.5V494.5V501.5H287.5V502.5V504.5H289.5V505.5H290.5V504.5H292.5V505.5H293.5V504.5V497.5H294.5V488.5H296.5H297.5V490.5H299.5V487.5H300.5V490.5H301.5V496.5H302.5V504.5H304.5H305.5V499.5H306.5V504.5V512.5H308.5H309.5V510.5V517.5H311.5H312.5V516.5V513.5H314.5V510.5H315.5V502.5V493.5H317.5V509.5H318.5V506.5H319.5V505.5H320.5H321.5V515.5H323.5V511.5H324.5V503.5H326.5V502.5V491.5H327.5V490.5H328.5V485.5H329.5V472.5H330.5V471.5H332.5V466.5H333.5V461.5H335.5V466.5H336.5V462.5H338.5H339.5V461.5V465.5H341.5V466.5V472.5H342.5V473.5H343.5V472.5H344.5V475.5H345.5V474.5H347.5H348.5V469.5H349.5V468.5H350.5V462.5H351.5V459.5H353.5H354.5V457.5V459.5H357.5H359.5H360.5V456.5H362.5H363.5V460.5V463.5H365.5H366.5V465.5H368.5V466.5V471.5H369.5V477.5H371.5H372.5V473.5H374.5H375.5V475.5H376.5V477.5H377.5V478.5H378.5V481.5H380.5V469.5H381.5V465.5H383.5V474.5H384.5V481.5H386.5H388.5V480.5H389.5V473.5H390.5V466.5H391.5H392.5V460.5H393.5V463.5H395.5V464.5V469.5H396.5V476.5H398.5V490.5H399.5V496.5H401.5V497.5V500.5H402.5V505.5H403.5H404.5V509.5H405.5V506.5H406.5V505.5H407.5V494.5H409.5H410.5V496.5H411.5H412.5V499.5H413.5V502.5H414.5V511.5H416.5V515.5H417.5V517.5H419.5V516.5H420.5V510.5H422.5V509.5H425.5V499.5H426.5V494.5H428.5H429.5V491.5V488.5H431.5V491.5H433.5V492.5H434.5V485.5H435.5V484.5V480.5H437.5V476.5H438.5V475.5H440.5V477.5H442.5V478.5H443.5V483.5H445.5V482.5H446.5V481.5H447.5V480.5H449.5V491.5H451.5V490.5H452.5V491.5H454.5V490.5H456.5V486.5H458.5V485.5V482.5H459.5V471.5H460.5H461.5V466.5H463.5H464.5V471.5H465.5V475.5H467.5H469.5V476.5H470.5V478.5H471.5V472.5H473.5H474.5V473.5V464.5H476.5V465.5H477.5V471.5H479.5V468.5H482.5V451.5H483.5V447.5H486.5V449.5H488.5V448.5H489.5V440.5H491.5H492.5V443.5H494.5V445.5H496.5V446.5H498.5V447.5V436.5H501.5V439.5H504.5H505.5V446.5H506.5V447.5H507.5V449.5H509.5V450.5H510.5V452.5H512.5V453.5V457.5H515.5V469.5H516.5V466.5H518.5V465.5H519.5V458.5H522.5V461.5H524.5H525.5V469.5V472.5H527.5V459.5H528.5V453.5H530.5H531.5V457.5V451.5H533.5H534.5V447.5H535.5H536.5V449.5H538.5V450.5H539.5H541.5H543.5V449.5V446.5H545.5V443.5H546.5V458.5H548.5H549.5V464.5V470.5H551.5V466.5H554.5H555.5V460.5H557.5V459.5H558.5V453.5V446.5H561.5V443.5H563.5H564.5V438.5H566.5V437.5H568.5V439.5H569.5H570.5V445.5H572.5V446.5V449.5H573.5V443.5H575.5V454.5H577.5V453.5H578.5V448.5H580.5H581.5V453.5H582.5V454.5V458.5H584.5V459.5H585.5V455.5V460.5H587.5V461.5V471.5H589.5V475.5H590.5V477.5H591.5V481.5H592.5H593.5V475.5H595.5V473.5H596.5V472.5H597.5V464.5H599.5V463.5H600.5V472.5H602.5H603.5V464.5H605.5V460.5H608.5V455.5H609.5V460.5H611.5V461.5H612.5V465.5V471.5H614.5V476.5H615.5V473.5H617.5V466.5H618.5V462.5H620.5V461.5H621.5V465.5V460.5H623.5V475.5H624.5V478.5H626.5V462.5H627.5V454.5H629.5H630.5V443.5H632.5V442.5V460.5H633.5V461.5H635.5H636.5V466.5V471.5H638.5V468.5H639.5V473.5H640.5V474.5H641.5V482.5H642.5V491.5H644.5V488.5H646.5H647.5V491.5H649.5V490.5H650.5V485.5H651.5V479.5H653.5V478.5H654.5V477.5H656.5H657.5V480.5V478.5H659.5V482.5H660.5V488.5H662.5H663.5V490.5H665.5H666.5V488.5H667.5V487.5H669.5V485.5V473.5H671.5V471.5H672.5V475.5H673.5H674.5V469.5H675.5V464.5H677.5V476.5H678.5V481.5H680.5V489.5H681.5V483.5H683.5H684.5V486.5H686.5H687.5V488.5H688.5V487.5H690.5V486.5V492.5H691.5V493.5H692.5V496.5H695.5H696.5V498.5V490.5H698.5V489.5H699.5V487.5H701.5V493.5H702.5V487.5H704.5H705.5V490.5H707.5V497.5H708.5V492.5H710.5V496.5H713.5H714.5V490.5V478.5H716.5V469.5H718.5V468.5H719.5V465.5H720.5V460.5H722.5V459.5V457.5H725.5V464.5H726.5V469.5H728.5H729.5V474.5H730.5V478.5H731.5H732.5V469.5H734.5V464.5H735.5V475.5H737.5H738.5V478.5H740.5V479.5H741.5V482.5H742.5H743.5V485.5H745.5V484.5H746.5V481.5H747.5V491.5H749.5V487.5H750.5V491.5H752.5V501.5H753.5V495.5H755.5V496.5V498.5H756.5V496.5H758.5V488.5H760.5H761.5V494.5H764.5V490.5H766.5V500.5H768.5V503.5H769.5H770.5V509.5H772.5V510.5H773.5V520.5H775.5H776.5V518.5H778.5H779.5V524.5H780.5V529.5H781.5V530.5H782.5V535.5H783.5V536.5H784.5V533.5H785.5V529.5H787.5V531.5H788.5V522.5H790.5H791.5V519.5H793.5V518.5V511.5H796.5H797.5V515.5H798.5V519.5H799.5H800.5V514.5H802.5V513.5V509.5H803.5V518.5H805.5H806.5V502.5H808.5H809.5V506.5V518.5H811.5V524.5H812.5V532.5H813.5H814.5V534.5H816.5V532.5H819.5H821.5V528.5H822.5V527.5H823.5V525.5H824.5V524.5H826.5V523.5V516.5H828.5H830.5V514.5V508.5H832.5V498.5H833.5V496.5H835.5V495.5H836.5V487.5H838.5V495.5H839.5V501.5H841.5V502.5V507.5H842.5V511.5H844.5H845.5V508.5H846.5V507.5H847.5V503.5H848.5V506.5H849.5V504.5H851.5V513.5H853.5V519.5H856.5V511.5H857.5V494.5H859.5V483.5H861.5V482.5H862.5V485.5H863.5V483.5H865.5V486.5H866.5V493.5H868.5V483.5H869.5H870.5V487.5H871.5V497.5H872.5V503.5H873.5V504.5H875.5V513.5H877.5V514.5V517.5H879.5V516.5H881.5V508.5H883.5V507.5V499.5H884.5V502.5H886.5V516.5H887.5V520.5H889.5V510.5H890.5V512.5H892.5V511.5V506.5H893.5V496.5H895.5H896.5V495.5H897.5V498.5H898.5V497.5H899.5V493.5H900.5V492.5H901.5V490.5H902.5V477.5H904.5V466.5H905.5"/>
<path class="c" d="M84 31.5 H947 M946.5 31 V415 M84 414.5 H947" stroke="#a9a9a9" stroke-width="1" fill="none"/>
<path class="c" d="M84.5 31 V415" stroke="#808080" stroke-width="1" fill="none"/>
<path class="c" d="M84 424.5 H947 M946.5 424 V681 M84 680.5 H947" stroke="#a9a9a9" stroke-width="1" fill="none"/>
<path class="c" d="M84.5 424 V681" stroke="#808080" stroke-width="1" fill="none"/>
<path class="c" d="M84 680.5 H947" stroke="#808080" stroke-width="1" fill="none"/>
<text class="t" x="78.2" y="405.1" text-anchor="end"><tspan>400</tspan></text>
<text class="t" x="78.2" y="381.1" text-anchor="end"><tspan>500</tspan></text>
<text class="t" x="78.2" y="357.1" text-anchor="end"><tspan>600</tspan></text>
<text class="t" x="78.2" y="334.1" text-anchor="end"><tspan>700</tspan></text>
<text class="t" x="78.2" y="310.1" text-anchor="end"><tspan>800</tspan></text>
<text class="t" x="78.2" y="287.1" text-anchor="end"><tspan>900</tspan></text>
<text class="t" x="78.2" y="263.1" text-anchor="end"><tspan>1.000</tspan></text>
<text class="t" x="78.2" y="239.1" text-anchor="end"><tspan>1.100</tspan></text>
<text class="t" x="78.2" y="216.1" text-anchor="end"><tspan>1.200</tspan></text>
<text class="t" x="78.2" y="192.1" text-anchor="end"><tspan>1.300</tspan></text>
<text class="t" x="78.2" y="168.1" text-anchor="end"><tspan>1.400</tspan></text>
<text class="t" x="78.2" y="145.1" text-anchor="end"><tspan>1.500</tspan></text>
<text class="t" x="78.2" y="121.1" text-anchor="end"><tspan>1.600</tspan></text>
<text class="t" x="78.2" y="97.1" text-anchor="end"><tspan>1.700</tspan></text>
<text class="t" x="78.2" y="74.1" text-anchor="end"><tspan>1.800</tspan></text>
<text class="t" x="78.2" y="50.1" text-anchor="end"><tspan>1.900</tspan></text>
<text class="t" x="78.2" y="669.1" text-anchor="end"><tspan style="font-size:8px" dy="-0.7">–</tspan><tspan dy="0.7">300.000</tspan></text>
<text class="t" x="78.2" y="649.1" text-anchor="end"><tspan style="font-size:8px" dy="-0.7">–</tspan><tspan dy="0.7">250.000</tspan></text>
<text class="t" x="78.2" y="628.1" text-anchor="end"><tspan style="font-size:8px" dy="-0.7">–</tspan><tspan dy="0.7">200.000</tspan></text>
<text class="t" x="78.2" y="608.1" text-anchor="end"><tspan style="font-size:8px" dy="-0.7">–</tspan><tspan dy="0.7">150.000</tspan></text>
<text class="t" x="78.2" y="588.1" text-anchor="end"><tspan style="font-size:8px" dy="-0.7">–</tspan><tspan dy="0.7">100.000</tspan></text>
<text class="t" x="78.2" y="567.1" text-anchor="end"><tspan style="font-size:8px" dy="-0.7">–</tspan><tspan dy="0.7">50.000</tspan></text>
<text class="t" x="78.2" y="547.1" text-anchor="end"><tspan>0</tspan></text>
<text class="t" x="78.2" y="526.1" text-anchor="end"><tspan>50.000</tspan></text>
<text class="t" x="78.2" y="506.1" text-anchor="end"><tspan>100.000</tspan></text>
<text class="t" x="78.2" y="486.1" text-anchor="end"><tspan>150.000</tspan></text>
<text class="t" x="78.2" y="465.1" text-anchor="end"><tspan>200.000</tspan></text>
<text class="t" x="78.2" y="445.1" text-anchor="end"><tspan>250.000</tspan></text>
<text class="x" transform="translate(98.9,684.6) rotate(-90)" text-anchor="end">oct-2004</text>
<text class="x" transform="translate(118.9,684.6) rotate(-90)" text-anchor="end">ene-2005</text>
<text class="x" transform="translate(137.9,684.6) rotate(-90)" text-anchor="end">abr-2005</text>
<text class="x" transform="translate(157.9,684.6) rotate(-90)" text-anchor="end">jul-2005</text>
<text class="x" transform="translate(177.9,684.6) rotate(-90)" text-anchor="end">oct-2005</text>
<text class="x" transform="translate(196.9,684.6) rotate(-90)" text-anchor="end">ene-2006</text>
<text class="x" transform="translate(216.9,684.6) rotate(-90)" text-anchor="end">abr-2006</text>
<text class="x" transform="translate(235.9,684.6) rotate(-90)" text-anchor="end">jul-2006</text>
<text class="x" transform="translate(255.9,684.6) rotate(-90)" text-anchor="end">oct-2006</text>
<text class="x" transform="translate(275.9,684.6) rotate(-90)" text-anchor="end">ene-2007</text>
<text class="x" transform="translate(294.9,684.6) rotate(-90)" text-anchor="end">abr-2007</text>
<text class="x" transform="translate(313.9,684.6) rotate(-90)" text-anchor="end">jul-2007</text>
<text class="x" transform="translate(333.9,684.6) rotate(-90)" text-anchor="end">oct-2007</text>
<text class="x" transform="translate(353.9,684.6) rotate(-90)" text-anchor="end">ene-2008</text>
<text class="x" transform="translate(372.9,684.6) rotate(-90)" text-anchor="end">abr-2008</text>
<text class="x" transform="translate(392.9,684.6) rotate(-90)" text-anchor="end">jul-2008</text>
<text class="x" transform="translate(412.9,684.6) rotate(-90)" text-anchor="end">oct-2008</text>
<text class="x" transform="translate(431.9,684.6) rotate(-90)" text-anchor="end">ene-2009</text>
<text class="x" transform="translate(451.9,684.6) rotate(-90)" text-anchor="end">abr-2009</text>
<text class="x" transform="translate(470.9,684.6) rotate(-90)" text-anchor="end">jul-2009</text>
<text class="x" transform="translate(490.9,684.6) rotate(-90)" text-anchor="end">oct-2009</text>
<text class="x" transform="translate(510.9,684.6) rotate(-90)" text-anchor="end">ene-2010</text>
<text class="x" transform="translate(529.9,684.6) rotate(-90)" text-anchor="end">abr-2010</text>
<text class="x" transform="translate(548.9,684.6) rotate(-90)" text-anchor="end">jul-2010</text>
<text class="x" transform="translate(568.9,684.6) rotate(-90)" text-anchor="end">oct-2010</text>
<text class="x" transform="translate(588.9,684.6) rotate(-90)" text-anchor="end">ene-2011</text>
<text class="x" transform="translate(607.9,684.6) rotate(-90)" text-anchor="end">abr-2011</text>
<text class="x" transform="translate(627.9,684.6) rotate(-90)" text-anchor="end">jul-2011</text>
<text class="x" transform="translate(646.9,684.6) rotate(-90)" text-anchor="end">oct-2011</text>
<text class="x" transform="translate(666.9,684.6) rotate(-90)" text-anchor="end">ene-2012</text>
<text class="x" transform="translate(686.9,684.6) rotate(-90)" text-anchor="end">abr-2012</text>
<text class="x" transform="translate(705.9,684.6) rotate(-90)" text-anchor="end">jul-2012</text>
<text class="x" transform="translate(725.9,684.6) rotate(-90)" text-anchor="end">oct-2012</text>
<text class="x" transform="translate(745.9,684.6) rotate(-90)" text-anchor="end">ene-2013</text>
<text class="x" transform="translate(764.9,684.6) rotate(-90)" text-anchor="end">abr-2013</text>
<text class="x" transform="translate(783.9,684.6) rotate(-90)" text-anchor="end">jul-2013</text>
<text class="x" transform="translate(803.9,684.6) rotate(-90)" text-anchor="end">oct-2013</text>
<text class="x" transform="translate(823.9,684.6) rotate(-90)" text-anchor="end">ene-2014</text>
<text class="x" transform="translate(842.9,684.6) rotate(-90)" text-anchor="end">abr-2014</text>
<text class="x" transform="translate(862.9,684.6) rotate(-90)" text-anchor="end">jul-2014</text>
<text class="x" transform="translate(881.9,684.6) rotate(-90)" text-anchor="end">oct-2014</text>
<text class="x" transform="translate(901.9,684.6) rotate(-90)" text-anchor="end">ene-2015</text>
<text class="x" transform="translate(920.9,684.6) rotate(-90)" text-anchor="end">abr-2015</text>
<text class="x" transform="translate(940.9,684.6) rotate(-90)" text-anchor="end">jul-2015</text>
<path class="c" d="M82 401.5 H84 M82 377.5 H84 M82 353.5 H84 M82 330.5 H84 M82 306.5 H84 M82 283.5 H84 M82 259.5 H84 M82 235.5 H84 M82 212.5 H84 M82 188.5 H84 M82 164.5 H84 M82 141.5 H84 M82 117.5 H84 M82 93.5 H84 M82 70.5 H84 M82 46.5 H84 M82 665.5 H84 M82 645.5 H84 M82 624.5 H84 M82 604.5 H84 M82 584.5 H84 M82 563.5 H84 M82 543.5 H84 M82 522.5 H84 M82 502.5 H84 M82 482.5 H84 M82 461.5 H84 M82 441.5 H84 M95.5 681 V683 M115.5 681 V683 M134.5 681 V683 M154.5 681 V683 M174.5 681 V683 M193.5 681 V683 M213.5 681 V683 M232.5 681 V683 M252.5 681 V683 M272.5 681 V683 M291.5 681 V683 M310.5 681 V683 M330.5 681 V683 M350.5 681 V683 M369.5 681 V683 M389.5 681 V683 M409.5 681 V683 M428.5 681 V683 M448.5 681 V683 M467.5 681 V683 M487.5 681 V683 M507.5 681 V683 M526.5 681 V683 M545.5 681 V683 M565.5 681 V683 M585.5 681 V683 M604.5 681 V683 M624.5 681 V683 M643.5 681 V683 M663.5 681 V683 M683.5 681 V683 M702.5 681 V683 M722.5 681 V683 M742.5 681 V683 M761.5 681 V683 M780.5 681 V683 M800.5 681 V683 M820.5 681 V683 M839.5 681 V683 M859.5 681 V683 M878.5 681 V683 M898.5 681 V683 M917.5 681 V683 M937.5 681 V683" stroke="#808080" stroke-width="1" fill="none"/>
<text class="a" style="font-size:13.2px" transform="translate(43.9,244.3) rotate(-90)">$<tspan dx="1.2">/</tspan><tspan dx="0.3">Onza</tspan></text>
<text class="a" transform="translate(26.5,621.3) rotate(-90)" textLength="137" lengthAdjust="spacingAndGlyphs">Commitment of Traders</text>
<rect class="c" x="121.5" y="734.5" width="716" height="19" fill="#fff" stroke="#000" stroke-width="1"/>
<path class="c" d="M125 744.5 H140" stroke="#FFA500" stroke-width="1" fill="none"/>
<text class="l" x="143.8" y="748">G</text>
<path class="c" d="M156 744.5 H171" stroke="#FF0000" stroke-width="1" fill="none"/>
<text class="l" x="173.0" y="748">J</text>
<path class="c" d="M183 744.5 H198" stroke="#800080" stroke-width="1" fill="none"/>
<text class="l" x="201.3" y="748">M</text>
<path class="c" d="M216 744.5 H231" stroke="#0000FF" stroke-width="1" fill="none"/>
<text class="l" x="234.5" y="748">Q</text>
<path class="c" d="M248 744.5 H263" stroke="#00CED1" stroke-width="1" fill="none"/>
<text class="l" x="266.2" y="748">V</text>
<path class="c" d="M279 744.5 H294" stroke="#9ACD32" stroke-width="1" fill="none"/>
<text class="l" x="297.5" y="748">Z</text>
<path class="c" d="M309 744.5 H324" stroke="#FF0000" stroke-width="1" fill="none"/>
<text class="l" x="327.7" y="748">Posición neta comerciales</text>
<path class="c" d="M459 744.5 H474" stroke="#0000FF" stroke-width="1" fill="none"/>
<text class="l" x="477.8" y="748">Posición neta no-comerciales</text>
<path class="c" d="M627 744.5 H642" stroke="#000000" stroke-width="1" fill="none"/>
<text class="l" x="644.9" y="748">Posición neta pequeños especuladores</text>
</svg>
</body></html>
